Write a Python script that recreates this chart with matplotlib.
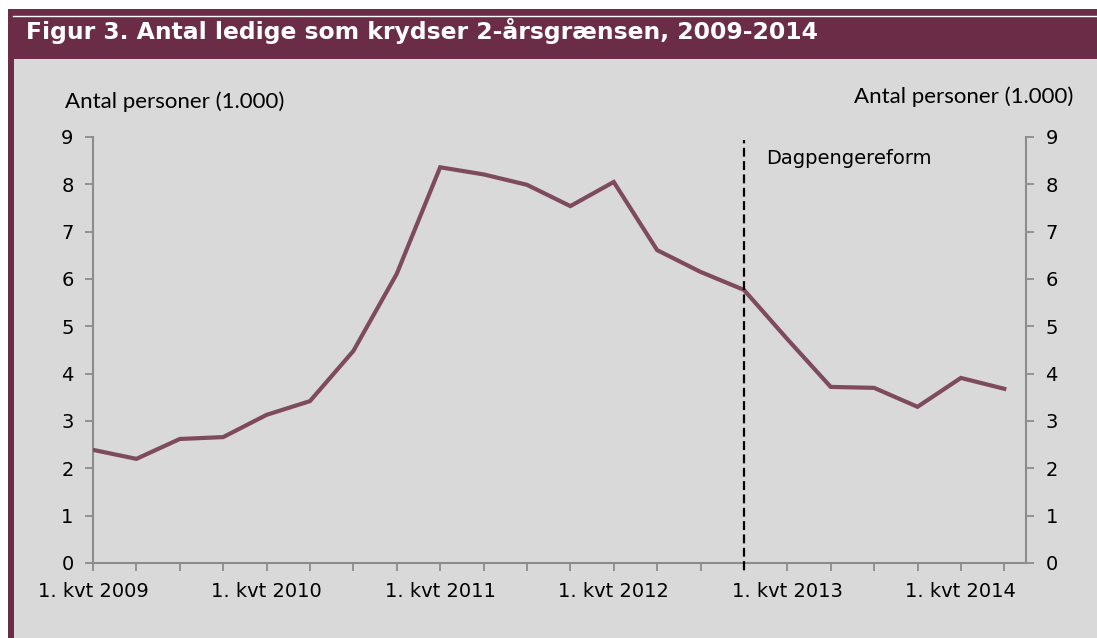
import matplotlib
matplotlib.use("Agg")
import matplotlib.pyplot as plt
from matplotlib.patches import Rectangle
from matplotlib.lines import Line2D

# Data
quarters = ["1. kvt 2009", "2. kvt 2009", "3. kvt 2009", "4. kvt 2009",
            "1. kvt 2010", "2. kvt 2010", "3. kvt 2010", "4. kvt 2010",
            "1. kvt 2011", "2. kvt 2011", "3. kvt 2011", "4. kvt 2011",
            "1. kvt 2012", "2. kvt 2012", "3. kvt 2012", "4. kvt 2012",
            "1. kvt 2013", "2. kvt 2013", "3. kvt 2013", "4. kvt 2013",
            "1. kvt 2014", "2. kvt 2014"]
values = [2.39, 2.20, 2.62, 2.66, 3.13, 3.42, 4.48, 6.11,
          8.36, 8.21, 7.99, 7.54, 8.05, 6.61, 6.15, 5.77,
          4.73, 3.72, 3.70, 3.30, 3.91, 3.68]
reform_index = 15
reform_label = "Dagpengereform"
title = "Figur 3. Antal ledige som krydser 2-årsgrænsen, 2009-2014"
ylabel = "Antal personer (1.000)"
yticks = list(range(0, 10))

W, H = 1097, 638
fig = plt.figure(figsize=(W / 100, H / 100), dpi=100)
fig.patch.set_facecolor("white")

purple = "#6B2C47"
grey = "#D9D9D9"
linecol = "#7E4A5E"
spinecol = "#8C8C8C"

def fx(px):
    return px / W

def fy(py):
    return 1 - py / H

# frame
fig.patches.append(Rectangle((fx(8), 0), 1 - fx(8), fy(9), transform=fig.transFigure,
                             facecolor=purple, edgecolor="none", zorder=-10))
fig.patches.append(Rectangle((fx(14), 0), 1 - fx(14), fy(59), transform=fig.transFigure,
                             facecolor=grey, edgecolor="none", zorder=-9))
fig.lines.append(Line2D([fx(13), 1], [fy(15.5), fy(15.5)], transform=fig.transFigure,
                        color="white", lw=1.0, zorder=-8))
fig.text(fx(26), fy(31), title, color="white", fontsize=16.9, fontweight="bold",
         family="DejaVu Sans", va="center", ha="left")

ax = fig.add_axes([fx(93), fy(563), fx(1026) - fx(93), fy(137) - fy(563)])
ax.set_facecolor("none")
x = list(range(len(values)))
ax.plot(x, values, color=linecol, lw=3.0, solid_joinstyle="miter", zorder=3)
ax.set_xlim(0, len(values) - 0.5)
ax.set_ylim(0, 9)

ax.set_xticks(x)
ax.set_xticklabels([q if i % 4 == 0 else "" for i, q in enumerate(quarters)],
                   fontsize=14, family="DejaVu Sans")
ax.set_yticks(yticks)
ax.set_yticklabels([str(t) for t in yticks], fontsize=14, family="DejaVu Sans")
ax.tick_params(axis="both", colors=spinecol, labelcolor="black", length=6, width=1.3)
ax.tick_params(axis="x", pad=8)
ax.tick_params(axis="y", pad=8)
for s in ["top", "right"]:
    ax.spines[s].set_visible(False)
for s in ["left", "bottom"]:
    ax.spines[s].set_color(spinecol)
    ax.spines[s].set_linewidth(1.5)

ax2 = ax.twinx()
ax2.set_ylim(0, 9)
ax2.set_yticks(yticks)
ax2.set_yticklabels([str(t) for t in yticks], fontsize=14, family="DejaVu Sans")
ax2.tick_params(axis="y", colors=spinecol, labelcolor="black", length=6, width=1.3, pad=8)
for s in ["top", "left", "bottom"]:
    ax2.spines[s].set_visible(False)
ax2.spines["right"].set_color(spinecol)
ax2.spines["right"].set_linewidth(1.5)

# reform line
ax.vlines(reform_index, -0.15, 8.94, colors="black", linestyles=(0, (4, 2)),
          lw=1.6, clip_on=False, zorder=4)
ax.text(reform_index + 0.5, 8.55, reform_label, fontsize=14, family="DejaVu Sans",
        ha="left", va="center")

fig.text(fx(65), fy(102), ylabel, fontsize=16, family="Lato", ha="left", va="center")
fig.text(fx(1073), fy(97), ylabel, fontsize=16, family="Lato", ha="right", va="center")

fig.savefig("out.png", dpi=100)
